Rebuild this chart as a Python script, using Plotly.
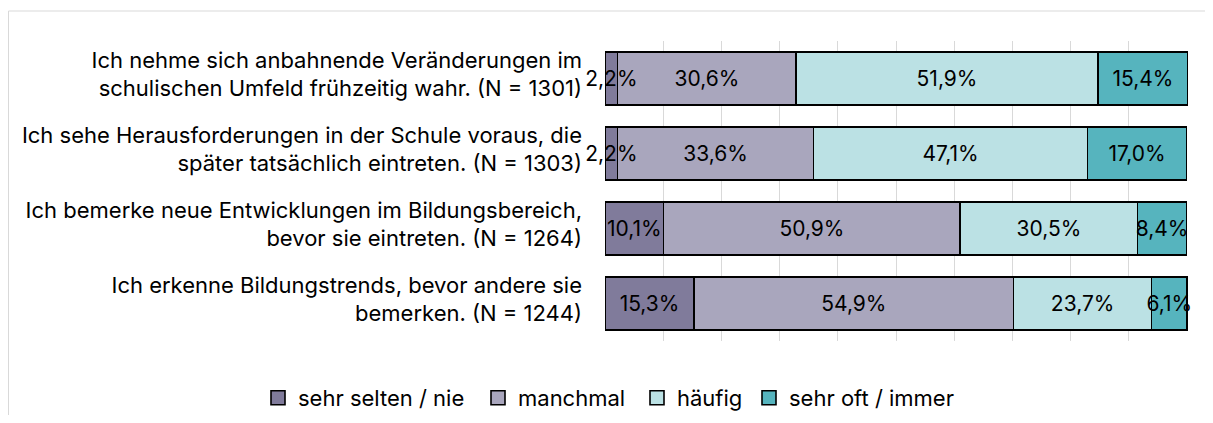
import plotly.graph_objects as go

categories = [
    "Ich nehme sich anbahnende Veränderungen im<br>schulischen Umfeld frühzeitig wahr. (N = 1301)",
    "Ich sehe Herausforderungen in der Schule voraus, die<br>später tatsächlich eintreten. (N = 1303)",
    "Ich bemerke neue Entwicklungen im Bildungsbereich,<br>bevor sie eintreten. (N = 1264)",
    "Ich erkenne Bildungstrends, bevor andere sie<br>bemerken. (N = 1244)",
]
series_names = ["sehr selten / nie", "manchmal", "häufig", "sehr oft / immer"]
sehr_selten = [2.2, 2.2, 10.1, 15.3]
manchmal = [30.6, 33.6, 50.9, 54.9]
haeufig = [51.9, 47.1, 30.5, 23.7]
sehr_oft = [15.4, 17.0, 8.4, 6.1]
colors = ["#807B9B", "#A9A6BD", "#BBE1E4", "#56B4BE"]

# page has an 8px body margin; figure coordinates = page coordinates - 8
OFF = 8
W, H = 1213 - OFF, 423 - 2 * OFF
L, R, T, B = 605 - OFF, 1188 - OFF, 41 - OFF, 341 - OFF
pw = R - L
ph = B - T

FONT = "Inter"
FS = 21
FS_TICK = 22
FS_LEG = 22

series = [sehr_selten, manchmal, haeufig, sehr_oft]
legend_ids = ["legend", "legend2", "legend3", "legend4"]
legend_left_page = [258, 478, 637, 749]

fig = go.Figure()
# coloured bars
for name, vals, col in zip(series_names, series, colors):
    fig.add_trace(go.Bar(
        y=categories, x=vals, name=name, orientation="h",
        marker=dict(color=col, line=dict(color="#000000", width=1.3)),
        showlegend=False,
    ))
# labels drawn on an overlaid axis so they sit above every bar
for name, vals in zip(series_names, series):
    fig.add_trace(go.Bar(
        y=categories, x=vals, name=name, orientation="h", xaxis="x2",
        marker=dict(color="rgba(0,0,0,0)", line=dict(width=0)),
        text=[f"{v:.1f}%".replace(".", ",") for v in vals],
        textposition="inside", insidetextanchor="middle", textangle=0,
        textfont=dict(color="#000000", size=FS, family=FONT),
        constraintext="none", cliponaxis=False, showlegend=False, hoverinfo="skip",
    ))
# legend entries (square swatches)
for name, col, lid in zip(series_names, colors, legend_ids):
    fig.add_trace(go.Scatter(
        x=[None], y=[None], mode="markers", name=name, legend=lid,
        marker=dict(symbol="square", size=14, color=col, line=dict(color="#000000", width=1.6)),
        showlegend=True,
    ))

xr = [0, 100.15]
legends = {}
for lid, lx in zip(legend_ids, legend_left_page):
    legends[lid] = dict(orientation="h", xref="paper", yref="paper",
                        x=(lx - OFF - L) / pw, xanchor="left",
                        y=(B - (398 - OFF)) / ph, yanchor="middle",
                        font=dict(size=FS_LEG, family=FONT, color="#000000"),
                        bgcolor="rgba(0,0,0,0)", itemwidth=30)

fig.update_layout(
    width=W, height=H,
    barmode="stack", bargap=0.29,
    margin=dict(l=L, r=W - R, t=T, b=H - B, pad=0, autoexpand=False),
    paper_bgcolor="white", plot_bgcolor="white",
    font=dict(family=FONT, size=FS, color="#000000"),
    uniformtext=dict(minsize=FS, mode="show"),
    xaxis=dict(range=xr, tick0=0, dtick=10, showgrid=True, gridcolor="#D9D9D9", gridwidth=1,
               showticklabels=False, zeroline=False, showline=False, fixedrange=True),
    xaxis2=dict(range=xr, overlaying="x", showgrid=False, showticklabels=False,
                zeroline=False, showline=False, fixedrange=True),
    yaxis=dict(autorange="reversed", showgrid=False, ticks="", ticklabelstandoff=22,
               ticklabelshift=4, automargin=False,
               tickfont=dict(size=FS_TICK, family=FONT, color="#000000")),
    showlegend=True,
    shapes=[dict(type="rect", xref="paper", yref="paper",
                 x0=(0.5 - L) / pw, x1=(W + 5 - L) / pw,
                 y0=(B - (H + 5)) / ph, y1=(B - (11 - OFF)) / ph,
                 line=dict(color="#D9D9D9", width=1), fillcolor="rgba(0,0,0,0)", layer="below")],
    **legends,
)
fig.write_html("out.html")
